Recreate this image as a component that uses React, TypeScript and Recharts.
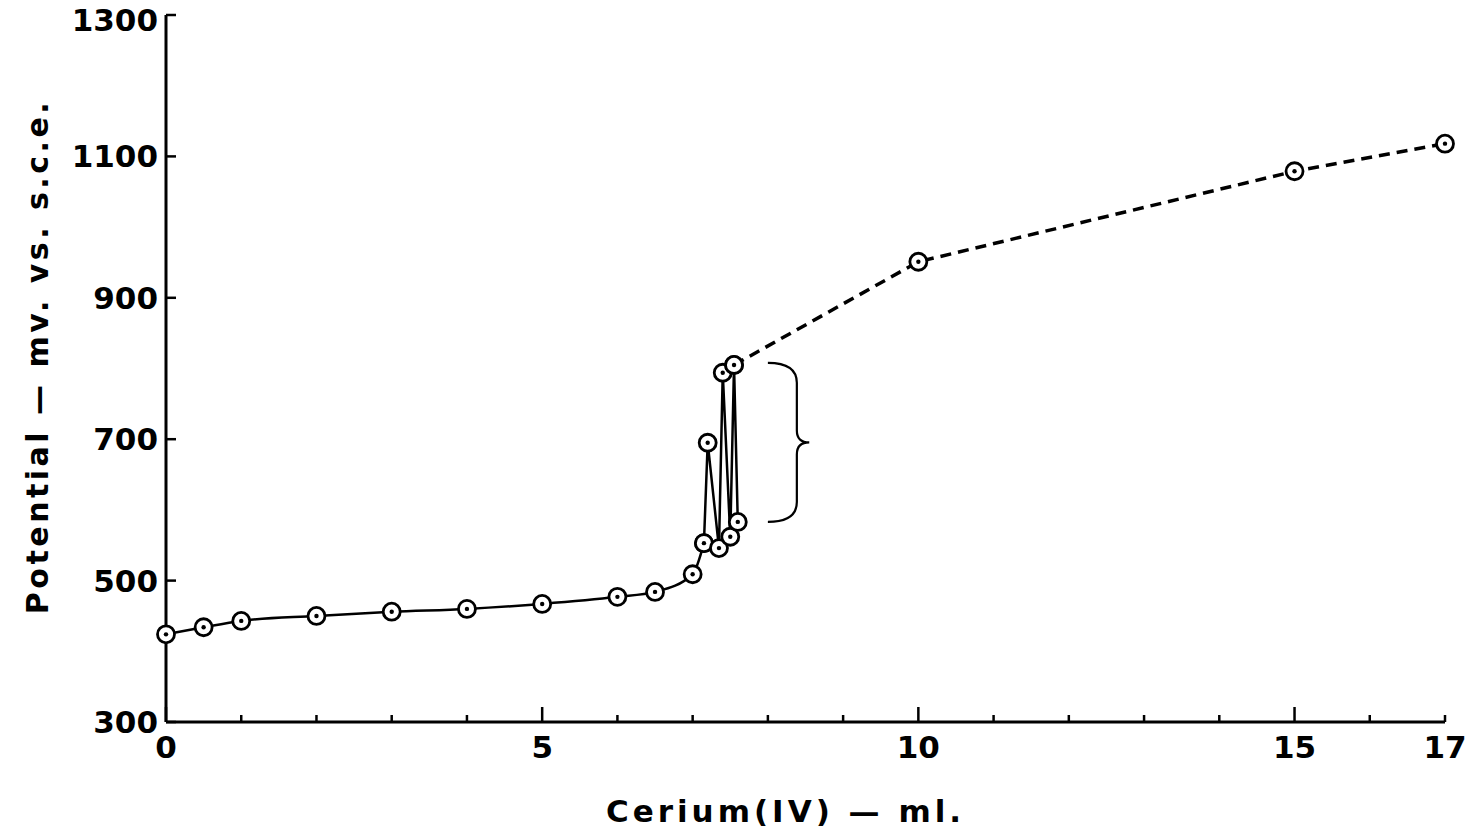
import React from "react";
import { ComposedChart, Line, XAxis, YAxis, ReferenceArea } from "recharts";

// titration curve: Cerium(IV) added (ml) vs potential (mV vs s.c.e.)
const smoothMl = [0, 0.5, 1, 2, 3, 4, 5, 6, 6.5, 7, 7.15];
const smoothMv = [424, 434, 443, 450, 456, 460, 467, 477, 484, 509, 553];

// unstable readings near the end point, joined in reading order
const zigzagMl = [7.15, 7.2, 7.35, 7.4, 7.5, 7.55, 7.6];
const zigzagMv = [553, 695, 546, 794, 562, 805, 583];

const dashedMl = [7.55, 10, 15, 17];
const dashedMv = [805, 951, 1079, 1118];

const xTicks = [0, 1, 2, 3, 4, 5, 6, 7, 8, 9, 10, 11, 12, 13, 14, 15, 16, 17];
const xLabels = [0, 5, 10, 15, 17];
const yTicks = [300, 500, 700, 900, 1100, 1300];

// brace marking the scattered readings
const braceMl = [8.0, 8.55];
const braceMv = [583, 808];

const toRows = (xs: number[], ys: number[]) => xs.map((x, i) => ({ x, mv: ys[i] }));
const smoothData = toRows(smoothMl, smoothMv);
const zigzagData = toRows(zigzagMl, zigzagMv);
const dashedData = toRows(dashedMl, dashedMv);

const FONT = "'DejaVu Sans', sans-serif";

const Marker = (props: any) => {
  const { cx, cy, index } = props;
  if (cx == null || cy == null) return null;
  return (
    <g key={`m-${index}-${cx}`}>
      <circle cx={cx} cy={cy} r={8.5} fill="#fff" stroke="#000" strokeWidth={2.8} />
      <circle cx={cx} cy={cy} r={2.2} fill="#000" />
    </g>
  );
};

const BottomTick = (props: any) => {
  const { x, y, payload } = props;
  const v = payload.value;
  const len = v % 5 === 0 ? 15 : 7;
  return (
    <g>
      <line x1={x} y1={y} x2={x} y2={y - len} stroke="#000" strokeWidth={2.5} />
      {xLabels.includes(v) && (
        <text x={x} y={y + 36} textAnchor="middle" fontFamily={FONT} fontWeight="bold" fontSize={31} fill="#000">
          {v}
        </text>
      )}
    </g>
  );
};

const TopTick = (props: any) => {
  const { x, y, payload } = props;
  const len = payload.value % 5 === 0 ? 15 : 7;
  return <line x1={x} y1={y} x2={x} y2={y + len} stroke="#000" strokeWidth={2.5} />;
};

const LeftTick = (props: any) => {
  const { x, y, payload } = props;
  return (
    <g>
      <line x1={x} y1={y} x2={x + 10} y2={y} stroke="#000" strokeWidth={2.5} />
      <text
        x={x - 8}
        y={Math.max(y + 11, 31)}
        textAnchor="end"
        fontFamily={FONT}
        fontWeight="bold"
        fontSize={31}
        fill="#000"
      >
        {payload.value}
      </text>
    </g>
  );
};

const RightTick = (props: any) => {
  const { x, y } = props;
  return <line x1={x} y1={y} x2={x - 10} y2={y} stroke="#000" strokeWidth={2.5} />;
};

const Brace = (props: any) => {
  const { x, y, width: w, height: h } = props;
  const mx = x + w * 0.7;
  const mid = y + h / 2;
  const d = `M${x},${y} Q${mx},${y} ${mx},${y + 20} L${mx},${mid - 12} Q${mx},${mid} ${x + w},${mid} Q${mx},${mid} ${mx},${mid + 12} L${mx},${y + h - 20} Q${mx},${y + h} ${x},${y + h}`;
  return <path d={d} fill="none" stroke="#000" strokeWidth={2.2} />;
};

export default function App() {
  return (
    <div style={{ position: "absolute", left: 0, top: 0, background: "#fff" }}>
      <ComposedChart width={1467} height={840} margin={{ top: 15, right: 22, bottom: 0, left: 0 }}>
        <XAxis
          xAxisId="b"
          type="number"
          dataKey="x"
          domain={[0, 17]}
          ticks={xTicks}
          interval={0}
          height={118}
          tickSize={0}
          tickMargin={0}
          tickLine={false}
          axisLine={{ stroke: "#000", strokeWidth: 3 }}
          tick={<BottomTick />}
          label={(p: any) => {
            const vb = p.viewBox;
            return (
              <text
                x={vb.x + vb.width / 2 - 20}
                y={vb.y + 100}
                textAnchor="middle"
                fontFamily={FONT}
                fontWeight="bold"
                fontSize={31}
                letterSpacing={4}
                fill="#000"
              >
                Cerium(IV) — ml.
              </text>
            );
          }}
        />
        <XAxis
          xAxisId="t"
          orientation="top"
          type="number"
          dataKey="x"
          domain={[0, 17]}
          ticks={xTicks}
          interval={0}
          height={0}
          tickSize={0}
          tickMargin={0}
          tickLine={false}
          axisLine={{ stroke: "#000", strokeWidth: 3 }}
          tick={<TopTick />}
        />
        <YAxis
          yAxisId="l"
          type="number"
          domain={[300, 1300]}
          ticks={yTicks}
          interval={0}
          width={166}
          tickSize={0}
          tickMargin={0}
          tickLine={false}
          axisLine={{ stroke: "#000", strokeWidth: 3 }}
          tick={<LeftTick />}
          label={(p: any) => {
            const vb = p.viewBox;
            const cx = 48;
            const cy = vb.y + vb.height / 2 - 12;
            return (
              <text
                x={cx}
                y={cy}
                transform={`rotate(-90 ${cx} ${cy})`}
                textAnchor="middle"
                fontFamily={FONT}
                fontWeight="bold"
                fontSize={30}
                letterSpacing={3.5}
                fill="#000"
              >
                Potential — mv. vs. s.c.e.
              </text>
            );
          }}
        />
        <YAxis
          yAxisId="r"
          orientation="right"
          type="number"
          domain={[300, 1300]}
          ticks={yTicks}
          interval={0}
          width={0}
          tickSize={0}
          tickMargin={0}
          tickLine={false}
          axisLine={{ stroke: "#000", strokeWidth: 3 }}
          tick={<RightTick />}
        />
        <ReferenceArea
          xAxisId="b"
          yAxisId="l"
          x1={braceMl[0]}
          x2={braceMl[1]}
          y1={braceMv[0]}
          y2={braceMv[1]}
          shape={<Brace />}
        />
        <Line
          xAxisId="b"
          yAxisId="l"
          data={smoothData}
          dataKey="mv"
          type="monotone"
          stroke="#000"
          strokeWidth={2.5}
          dot={<Marker />}
          activeDot={false}
          isAnimationActive={false}
        />
        <Line
          xAxisId="b"
          yAxisId="l"
          data={zigzagData}
          dataKey="mv"
          type="linear"
          stroke="#000"
          strokeWidth={2.5}
          dot={<Marker />}
          activeDot={false}
          isAnimationActive={false}
        />
        <Line
          xAxisId="b"
          yAxisId="l"
          data={dashedData}
          dataKey="mv"
          type="linear"
          stroke="#000"
          strokeWidth={3.5}
          strokeDasharray="11 7"
          dot={<Marker />}
          activeDot={false}
          isAnimationActive={false}
        />
      </ComposedChart>
    </div>
  );
}
